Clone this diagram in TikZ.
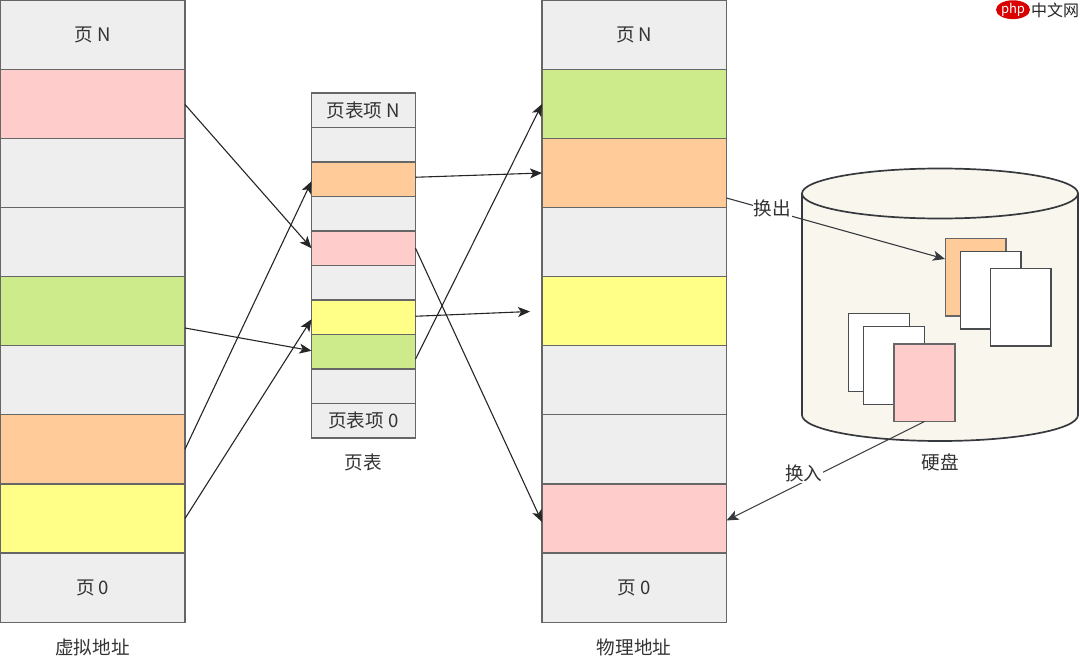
\documentclass[tikz,border=0pt]{standalone}
\usepackage{fontspec}
\setmainfont{Noto Sans CJK SC}
\usetikzlibrary{arrows.meta,shapes.geometric}
\definecolor{txt}{HTML}{333333}
\definecolor{edge}{HTML}{666666}
\definecolor{dark}{HTML}{36393D}
\definecolor{cgrey}{HTML}{EEEEEE}
\definecolor{cpink}{HTML}{FFCCCC}
\definecolor{corange}{HTML}{FFCC99}
\definecolor{cgreen}{HTML}{CDEB8B}
\definecolor{cyellow}{HTML}{FFFF88}
\definecolor{cdisk}{HTML}{F9F7ED}
\tikzset{
  cellbox/.style={draw=edge,line width=1.3pt,inner sep=0pt,outer sep=0pt,text=txt,font=\fontsize{18.6}{20}\selectfont},
  pagebox/.style={draw=dark!90,line width=1.3pt,inner sep=0pt,outer sep=0pt},
  softpage/.style={pagebox,draw=edge},
  lbl/.style={text=txt,inner sep=0pt,font=\fontsize{18.6}{20}\selectfont},
  lblw/.style={lbl,fill=white,inner sep=1pt},
  link/.style={draw=black!85,line width=1.1pt,-{Stealth[length=12pt,width=10pt,inset=3pt]}},
  linkd/.style={link,draw=dark}
}
% \cellnode{name}{x0}{y0}{x1}{y1}{fill}{text}
\newcommand{\cellnode}[7]{%
  \node[cellbox,fill=#6,minimum width={(#4-#2)*1pt},minimum height={(#5-#3)*1pt}] (#1) at ({(#2+#4)/2},{(#3+#5)/2}) {\raisebox{-1.5pt}{#7}};}
\newcommand{\pagenode}[7][pagebox]{%
  \node[#1,fill=#7,minimum width={(#5-#3)*1pt},minimum height={(#6-#4)*1pt}] (#2) at ({(#3+#5)/2},{(#4+#6)/2}) {};}
\begin{document}
\begin{tikzpicture}[x=1pt,y=-1pt]
\useasboundingbox (0,0) rectangle (1080,658);
% left column
\cellnode{la}{0.5}{0}{185}{69.5}{cgrey}{页 N}
\cellnode{lb}{0.5}{69.5}{185}{138.5}{cpink}{}
\cellnode{lc}{0.5}{138.5}{185}{207.5}{cgrey}{}
\cellnode{ld}{0.5}{207.5}{185}{276.5}{cgrey}{}
\cellnode{le}{0.5}{276.5}{185}{345.5}{cgreen}{}
\cellnode{lf}{0.5}{345.5}{185}{414.5}{cgrey}{}
\cellnode{lg}{0.5}{414.5}{185}{484}{corange}{}
\cellnode{lh}{0.5}{484}{185}{553}{cyellow}{}
\cellnode{li}{0.5}{553}{185}{622.5}{cgrey}{页 0}
% right column
\cellnode{ra}{542}{0}{726.5}{69.5}{cgrey}{页 N}
\cellnode{rb}{542}{69.5}{726.5}{138.5}{cgreen}{}
\cellnode{rc}{542}{138.5}{726.5}{207.5}{corange}{}
\cellnode{rd}{542}{207.5}{726.5}{276.5}{cgrey}{}
\cellnode{re}{542}{276.5}{726.5}{345.5}{cyellow}{}
\cellnode{rf}{542}{345.5}{726.5}{414.5}{cgrey}{}
\cellnode{rg}{542}{414.5}{726.5}{484}{cgrey}{}
\cellnode{rh}{542}{484}{726.5}{553}{cpink}{}
\cellnode{ri}{542}{553}{726.5}{622.5}{cgrey}{页 0}
% middle column
\cellnode{ma}{311.5}{93}{415.5}{127.5}{cgrey}{页表项 N}
\cellnode{mb}{311.5}{127.5}{415.5}{162}{cgrey}{}
\cellnode{mc}{311.5}{162}{415.5}{196.5}{corange}{}
\cellnode{md}{311.5}{196.5}{415.5}{231}{cgrey}{}
\cellnode{me}{311.5}{231}{415.5}{265.5}{cpink}{}
\cellnode{mf}{311.5}{265.5}{415.5}{300}{cgrey}{}
\cellnode{mg}{311.5}{300}{415.5}{334.5}{cyellow}{}
\cellnode{mh}{311.5}{334.5}{415.5}{369}{cgreen}{}
\cellnode{mi}{311.5}{369}{415.5}{403.5}{cgrey}{}
\cellnode{mj}{311.5}{403.5}{415.5}{438}{cgrey}{页表项 0}
% captions
\node[lbl] (capl) at (92.5,647) {虚拟地址};
\node[lbl] (capm) at (363.5,462) {页表};
\node[lbl] (capr) at (634,647) {物理地址};
\node[lbl] (capd) at (940,462) {硬盘};
% disk
\draw[dark,line width=1.7pt,fill=cdisk] (802,193.5) -- (802,415)
  arc[start angle=180,end angle=360,x radius=138pt,y radius=26pt]
  -- (1078,193.5)
  arc[start angle=0,end angle=180,x radius=138pt,y radius=25pt] -- cycle;
\draw[dark,line width=1.7pt] (802,193.5)
  arc[start angle=180,end angle=360,x radius=138pt,y radius=25pt];
% disk pages
\pagenode[softpage]{pa}{945.5}{238.5}{1006}{316}{corange}
\pagenode{pb}{960.5}{251.5}{1021}{329}{white}
\pagenode{pc}{990.5}{268.5}{1051}{346}{white}
\pagenode{qa}{848.5}{313.5}{909.5}{391.5}{white}
\pagenode{qb}{863.5}{326.5}{924.5}{404.5}{white}
\pagenode[softpage]{qc}{894}{344}{955}{421.5}{cpink}
% free ends
\coordinate (yellowend) at (530,311.5);
\coordinate (spillin) at (945,259);
% connectors
\draw[link] ([yshift=-0.5pt]lb.east) -- (me.west);
\draw[link] ([yshift=-17pt]le.east) -- ([yshift=1pt]mh.west);
\draw[link] (lg.east) -- ([yshift=-2pt]mc.west);
\draw[link] (lh.east) -- ([yshift=-2pt]mg.west);
\draw[link] ([yshift=2pt]mc.east) -- (rc.west);
\draw[link] (me.east) -- ([yshift=-3.5pt]rh.west);
\draw[link] ([yshift=1pt]mg.east) -- (yellowend);
\draw[link] ([yshift=-7.5pt]mh.east) -- (rb.west);
\draw[linkd] ([yshift=-25pt]rc.east) -- node[lblw,pos=0.21,yshift=2.5pt] (out) {换出} (spillin);
\draw[linkd] (qc.south) -- node[lblw,pos=0.59,yshift=6pt,xshift=-4pt] (in) {换入} ([yshift=-2pt]rh.east);
% site mark
\node[fill=red!85!black,ellipse,minimum width=28pt,minimum height=18.5pt,inner sep=0pt,text=white,font=\fontsize{13}{14}\selectfont\itshape] (logo) at (1013,9.7) {php};
\node[text=black!85,inner sep=0pt,font=\fontsize{16}{18}\selectfont] (logot) at (1055,10) {中文网};
\end{tikzpicture}
\end{document}
